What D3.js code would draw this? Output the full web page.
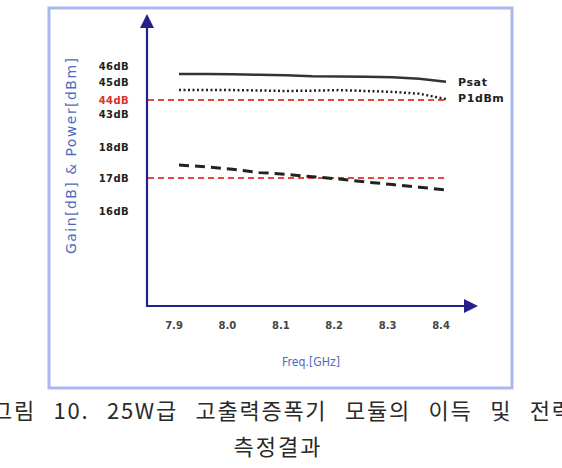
<!DOCTYPE html>
<html>
<head>
<meta charset="utf-8">
<script src="https://cdn.jsdelivr.net/npm/d3@7"></script>
<style>
  html, body { margin: 0; padding: 0; background: #fff; overflow: hidden; }
  svg { display: block; }
</style>
</head>
<body>
<div id="chart"></div>
<script>
// frequencies [GHz] where the curves were read
const freqs = [7.9, 7.95, 8.0, 8.05, 8.1, 8.15, 8.2, 8.25, 8.3, 8.35, 8.4];
const psat = [45.5, 45.5, 45.48, 45.45, 45.42, 45.36, 45.35, 45.33, 45.3, 45.2, 45.02];
const p1db = [44.55, 44.56, 44.55, 44.53, 44.5, 44.52, 44.55, 44.5, 44.45, 44.35, 44.05];
const gain = [17.42, 17.36, 17.28, 17.18, 17.12, 17.04, 16.97, 16.88, 16.8, 16.72, 16.64];

const xTicks = [7.9, 8.0, 8.1, 8.2, 8.3, 8.4];
const yTicks = [46, 45, 44, 43, 18, 17, 16];
const refLines = [44, 17];
const legend = [['Psat', 45.0], ['P1dBm', 44.1]];
const captionLine1 = '그림 10. 25W급 고출력증폭기 모듈의 이득 및 전력';
const captionLine2 = '측정결과';

const W = 562, H = 468;
const svg = d3.select('#chart').append('svg')
  .attr('width', W).attr('height', H);

// broken axis: two bands (16-18 dB, 43-46 dB)
const y = d3.scaleLinear()
  .domain([16, 17, 18, 43, 44, 45, 46])
  .range([211, 178, 147, 114, 100, 82, 66]);
const x = d3.scaleLinear().domain([7.9, 8.4]).range([179, 446]);

const navy = '#22228a';
const tickFont = 'DejaVu Sans, Verdana, sans-serif';

// frame
svg.append('rect')
  .attr('x', 49).attr('y', 8).attr('width', 463).attr('height', 380)
  .attr('fill', 'none').attr('stroke', '#a9b9ef').attr('stroke-width', 3);

// reference dashed lines
svg.append('g').selectAll('line').data(refLines).join('line')
  .attr('x1', 148).attr('x2', x(8.4))
  .attr('y1', d => y(d)).attr('y2', d => y(d))
  .attr('stroke', '#e8463f').attr('stroke-width', 2)
  .attr('stroke-dasharray', '6,4');

const line = vals => d3.line()
  .x((d, i) => x(freqs[i]))
  .y(d => y(d))(vals);

svg.append('path').attr('d', line(psat))
  .attr('fill', 'none').attr('stroke', '#333').attr('stroke-width', 2.5);
svg.append('path').attr('d', line(p1db))
  .attr('fill', 'none').attr('stroke', '#222').attr('stroke-width', 2.5)
  .attr('stroke-dasharray', '2,2.5');
svg.append('path').attr('d', line(gain))
  .attr('fill', 'none').attr('stroke', '#222').attr('stroke-width', 3)
  .attr('stroke-dasharray', '10,6');

// axes with arrows
svg.append('line').attr('x1', 147).attr('x2', 147).attr('y1', 26).attr('y2', 306)
  .attr('stroke', navy).attr('stroke-width', 2.2);
svg.append('line').attr('x1', 146).attr('x2', 466).attr('y1', 306).attr('y2', 306)
  .attr('stroke', navy).attr('stroke-width', 2.2);
svg.append('path').attr('d', 'M147,14 L140,28 L154,28 Z').attr('fill', navy);
svg.append('path').attr('d', 'M478,306 L464,299 L464,313 Z').attr('fill', navy);

// y tick labels
svg.append('g').selectAll('text').data(yTicks).join('text')
  .attr('x', 129).attr('y', d => y(d)).attr('dy', '0.35em')
  .attr('text-anchor', 'end')
  .attr('font-family', tickFont)
  .attr('font-size', 10).attr('font-weight', 'bold')
  .attr('letter-spacing', 0.4)
  .attr('fill', d => d === 44 ? '#e02b2b' : '#222')
  .text(d => d + 'dB');

// x tick labels
svg.append('g').selectAll('text').data(xTicks).join('text')
  .attr('x', d => x(d) - 5).attr('y', 325).attr('dy', '0.35em')
  .attr('text-anchor', 'middle')
  .attr('font-family', tickFont)
  .attr('font-size', 10).attr('font-weight', 'bold')
  .attr('fill', '#444')
  .text(d => d.toFixed(1));

// legend labels
svg.append('g').selectAll('text').data(legend).join('text')
  .attr('x', 458).attr('y', d => y(d[1])).attr('dy', '0.35em')
  .attr('font-family', tickFont)
  .attr('font-size', 11).attr('font-weight', 'bold')
  .attr('letter-spacing', 0.6)
  .attr('fill', '#222')
  .text(d => d[0]);

// axis titles
svg.append('text')
  .attr('transform', 'translate(71,156) rotate(-90)')
  .attr('text-anchor', 'middle')
  .attr('dy', '0.35em')
  .attr('font-family', tickFont)
  .attr('font-size', 14).attr('fill', '#4f6bbd')
  .attr('textLength', 196).attr('lengthAdjust', 'spacing')
  .text('Gain[dB] & Power[dBm]');
svg.append('text')
  .attr('x', 311).attr('y', 362).attr('dy', '0.35em')
  .attr('text-anchor', 'middle')
  .attr('font-family', tickFont)
  .attr('font-size', 12).attr('fill', '#4f6bbd')
  .attr('textLength', 58).attr('lengthAdjust', 'spacingAndGlyphs')
  .text('Freq.[GHz]');

// caption: the first line runs past both edges in the reference
svg.append('text')
  .attr('x', -8).attr('y', 411).attr('dy', '0.35em')
  .attr('font-family', 'Noto Sans CJK KR, sans-serif')
  .attr('font-size', 22).attr('fill', '#2a2a2a')
  .attr('word-spacing', 11)
  .attr('textLength', 580).attr('lengthAdjust', 'spacing')
  .text(captionLine1);
svg.append('text')
  .attr('x', 278).attr('y', 447).attr('dy', '0.35em')
  .attr('text-anchor', 'middle')
  .attr('font-family', 'Noto Sans CJK KR, sans-serif')
  .attr('font-size', 22).attr('fill', '#2a2a2a')
  .attr('letter-spacing', 2)
  .text(captionLine2);
</script>
</body>
</html>
